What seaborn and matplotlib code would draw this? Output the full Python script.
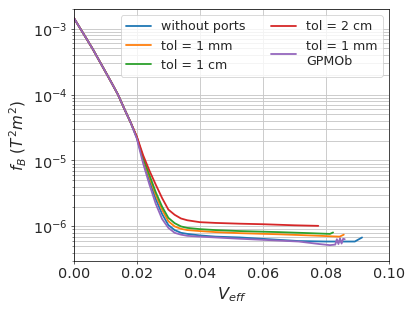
import pandas as pd
import matplotlib
matplotlib.use("Agg")
import matplotlib.pyplot as plt
import seaborn as sns

# ================================
# Data
# ================================
# shared steep descent for every run
x_common = [0.0, 0.002, 0.004, 0.006, 0.008, 0.010, 0.012, 0.014, 0.016, 0.018]
y_common = [1.45e-3, 1.01e-3, 7.05e-4, 4.9e-4, 3.3e-4, 2.23e-4, 1.5e-4, 1.0e-4, 6.1e-5, 3.8e-5]

x_noports = [0.020, 0.022, 0.024, 0.026, 0.028, 0.030, 0.032, 0.034, 0.036, 0.040, 0.045,
             0.0527, 0.0714, 0.080, 0.0892, 0.0915]
y_noports = [2.2e-5, 1.0e-5, 5.0e-6, 2.6e-6, 1.55e-6, 1.05e-6, 8.8e-7, 8.0e-7, 7.7e-7, 7.3e-7, 7.0e-7,
             6.8e-7, 6.0e-7, 5.9e-7, 5.9e-7, 6.8e-7]

x_tol1mm = [0.020, 0.022, 0.024, 0.026, 0.028, 0.030, 0.032, 0.034, 0.036, 0.040, 0.045,
            0.0527, 0.065, 0.075, 0.0844, 0.0857]
y_tol1mm = [2.25e-5, 1.05e-5, 5.6e-6, 3.0e-6, 1.8e-6, 1.2e-6, 1.0e-6, 9.2e-7, 8.8e-7, 8.5e-7, 8.2e-7,
            7.9e-7, 7.6e-7, 7.3e-7, 7.0e-7, 7.5e-7]

x_tol1cm = [0.020, 0.022, 0.024, 0.026, 0.028, 0.030, 0.032, 0.034, 0.036, 0.040, 0.045,
            0.0527, 0.065, 0.075, 0.0813, 0.0823]
y_tol1cm = [2.25e-5, 1.1e-5, 6.0e-6, 3.3e-6, 2.0e-6, 1.35e-6, 1.12e-6, 1.0e-6, 9.5e-7, 9.1e-7, 8.8e-7,
            8.5e-7, 8.2e-7, 7.9e-7, 7.7e-7, 8.1e-7]

x_tol2cm = [0.020, 0.022, 0.024, 0.026, 0.028, 0.030, 0.032, 0.034, 0.036, 0.040, 0.045,
            0.0527, 0.060, 0.070, 0.0776]
y_tol2cm = [2.3e-5, 1.2e-5, 7.0e-6, 4.3e-6, 2.7e-6, 1.8e-6, 1.5e-6, 1.32e-6, 1.24e-6, 1.16e-6, 1.13e-6,
            1.1e-6, 1.08e-6, 1.04e-6, 1.02e-6]

x_gpmob = [0.020, 0.022, 0.024, 0.026, 0.028, 0.030, 0.032, 0.034, 0.036, 0.040, 0.045,
           0.0527, 0.0714, 0.078, 0.0813, 0.083, 0.0835, 0.084, 0.0845, 0.085, 0.0855, 0.086]
y_gpmob = [2.15e-5, 9.0e-6, 4.3e-6, 2.2e-6, 1.3e-6, 9.5e-7, 8.0e-7, 7.5e-7, 7.2e-7, 7.0e-7, 6.8e-7,
           6.5e-7, 5.9e-7, 5.4e-7, 5.2e-7, 5.3e-7, 6.4e-7, 5.4e-7, 6.6e-7, 5.5e-7, 6.5e-7, 6.4e-7]

labels = ["without ports", "tol = 1 mm", "tol = 1 cm", "tol = 2 cm", "tol = 1 mm\nGPMOb"]
colors = ["#1f77b4", "#ff7f0e", "#2ca02c", "#d62728", "#9467bd"]

series = [(x_noports, y_noports), (x_tol1mm, y_tol1mm), (x_tol1cm, y_tol1cm),
          (x_tol2cm, y_tol2cm), (x_gpmob, y_gpmob)]

frames = []
for lab, (xs, ys) in zip(labels, series):
    frames.append(pd.DataFrame({"V": x_common + xs, "f": y_common + ys, "run": lab}))
df = pd.concat(frames, ignore_index=True)

# ================================
# Plot
# ================================
sns.set_style("ticks")
fig, ax = plt.subplots(figsize=(6.4, 4.8), dpi=64.84)
fig.subplots_adjust(left=0.178, right=0.937, top=0.971, bottom=0.161)

sns.lineplot(data=df, x="V", y="f", hue="run", palette=dict(zip(labels, colors)),
             estimator=None, sort=False, lw=2, ax=ax)

ax.set_yscale("log")
ax.set_xlim(0, 0.1)
ax.set_ylim(3.0e-7, 2.0e-3)
ax.grid(True, which="both", axis="y", color="#c8c8c8", lw=1)
ax.grid(True, which="major", axis="x", color="#c8c8c8", lw=1)
ax.set_axisbelow(True)

ax.set_xlabel(r"$V_{eff}$", fontsize=18)
ax.set_ylabel(r"$f_B$ $(T^2m^2)$", fontsize=17)
ax.tick_params(labelsize=16)
for s in ax.spines.values():
    s.set_color("black")

ax.legend(loc="upper right", ncol=2, fontsize=14, title=None)

plt.savefig("out.png", dpi=64.84)
